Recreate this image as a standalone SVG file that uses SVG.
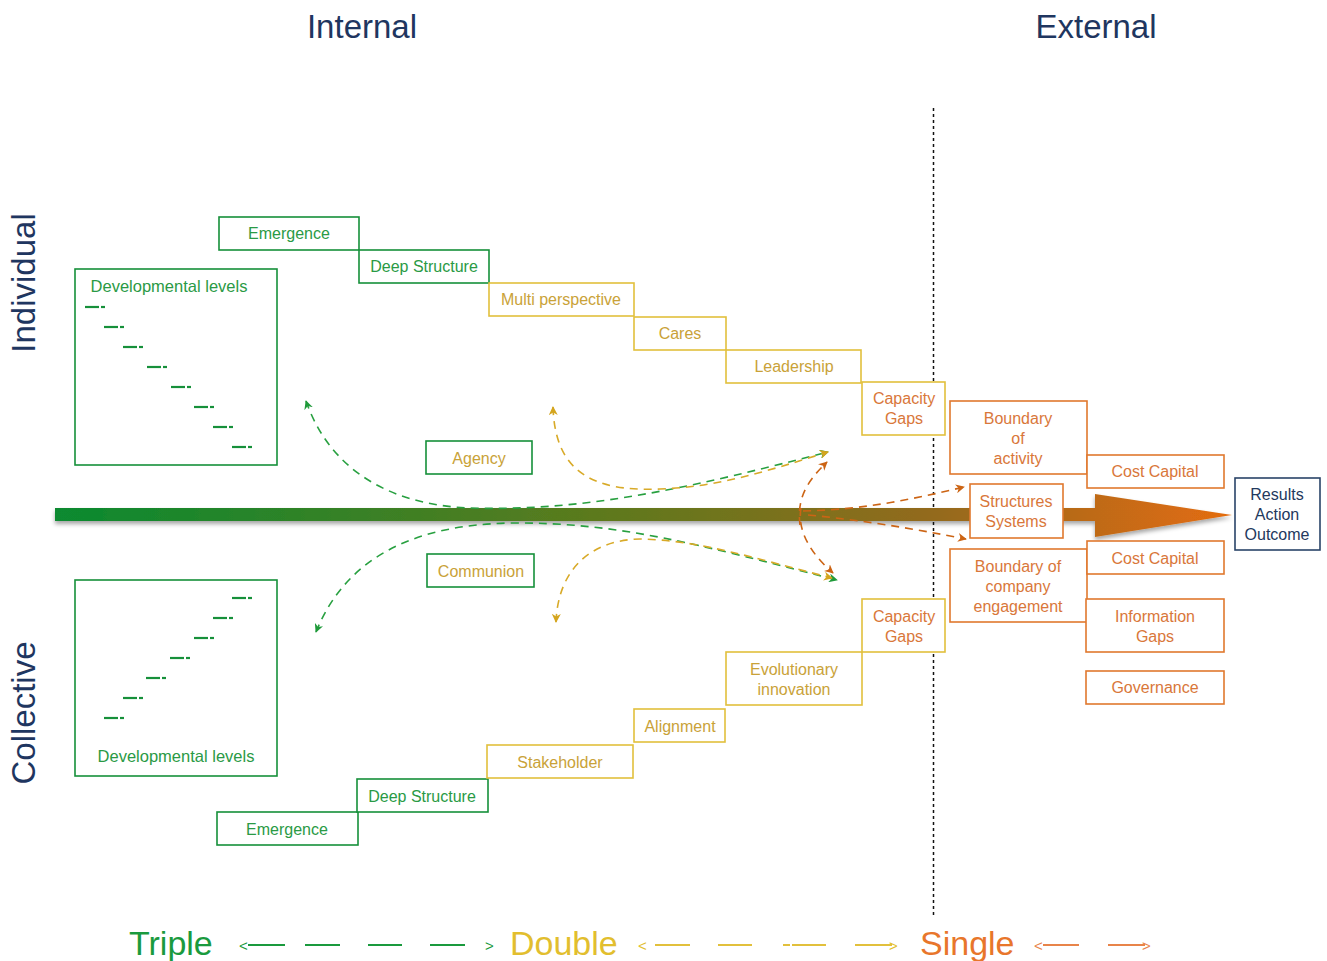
<svg xmlns="http://www.w3.org/2000/svg" width="1327" height="961" viewBox="0 0 1327 961">
  <defs>
    <linearGradient id="flow" x1="55" y1="0" x2="1232" y2="0" gradientUnits="userSpaceOnUse">
      <stop offset="0" stop-color="#0a8a30"/>
      <stop offset="0.45" stop-color="#5a7a1e"/>
      <stop offset="0.75" stop-color="#946a1e"/>
      <stop offset="1" stop-color="#e46c10"/>
    </linearGradient>
    <filter id="shadow" x="-5%" y="-50%" width="110%" height="250%">
      <feDropShadow dx="0" dy="3" stdDeviation="2" flood-color="#000" flood-opacity="0.35"/>
    </filter>
    <marker id="ah-green" viewBox="0 0 10 10" refX="9" refY="5" markerWidth="9" markerHeight="9" orient="auto-start-reverse" markerUnits="userSpaceOnUse">
      <path d="M0,0 L10,5 L0,10 L3,5 Z" fill="#1f9a3a"/>
    </marker>
    <marker id="ah-yellow" viewBox="0 0 10 10" refX="9" refY="5" markerWidth="9" markerHeight="9" orient="auto-start-reverse" markerUnits="userSpaceOnUse">
      <path d="M0,0 L10,5 L0,10 L3,5 Z" fill="#d4a51e"/>
    </marker>
    <marker id="ah-orange" viewBox="0 0 10 10" refX="9" refY="5" markerWidth="9" markerHeight="9" orient="auto-start-reverse" markerUnits="userSpaceOnUse">
      <path d="M0,0 L10,5 L0,10 L3,5 Z" fill="#cc6414"/>
    </marker>
  </defs>
  <style>
    text { font-family: "Liberation Sans", Arial, sans-serif; }
    .box rect { fill: #fff; stroke-width: 1.6; }
    .g rect { stroke: #16903a; }
    .y rect { stroke: #e2c03c; }
    .o rect { stroke: #e0782e; }
    .n rect { stroke: #2a4468; }
    .t { font-size: 16px; text-anchor: middle; }
    .dl { font-size: 16.5px; }
    .tg { fill: #2a9a45; }
    .ty { fill: #c9a238; }
    .to { fill: #d9773a; }
    .tn { fill: #23395d; }
    .head { font-size: 33px; fill: #1f3660; text-anchor: middle; }
    .lvl { stroke: #16903a; stroke-width: 2.2; }
    .dg { fill: none; stroke: #28a040; stroke-width: 1.6; stroke-dasharray: 8 6; }
    .dy { fill: none; stroke: #d8aa28; stroke-width: 1.6; stroke-dasharray: 8 6; }
    .do { fill: none; stroke: #cc6414; stroke-width: 1.6; stroke-dasharray: 8 6; }
    .leg { font-size: 34px; }
    .arr { font-size: 15px; }
    .lg { stroke: #1a9a3e; stroke-width: 2; }
    .ly { stroke: #e2c03c; stroke-width: 2; }
    .lo { stroke: #e8844a; stroke-width: 2; }
  </style>

  <!-- headings -->
  <text class="head" x="362" y="38">Internal</text>
  <text class="head" x="1096" y="38">External</text>
  <text class="head" transform="translate(35,283) rotate(-90)">Individual</text>
  <text class="head" transform="translate(35,713) rotate(-90)">Collective</text>

  <!-- internal / external divider -->
  <line x1="933.5" y1="108" x2="933.5" y2="918" stroke="#111" stroke-width="1.5" stroke-dasharray="3 3"/>

  <!-- main flow arrow -->
  <g id="flow-arrow" filter="url(#shadow)">
    <rect x="55" y="508" width="1045" height="13" fill="url(#flow)"/>
    <path d="M1095,494 L1232,515 L1095,537 Z" fill="url(#flow)"/>
  </g>

  <!-- developmental levels, individual -->
  <g id="dev-individual" class="box g">
    <rect x="75" y="269" width="202" height="196"/>
    <text class="t dl tg" x="169" y="292">Developmental levels</text>
    <g class="lvl">
      <line x1="85" y1="307" x2="99" y2="307"/><line x1="101" y1="307" x2="105" y2="307"/>
      <line x1="104" y1="327" x2="118" y2="327"/><line x1="120" y1="327" x2="124" y2="327"/>
      <line x1="123" y1="347" x2="137" y2="347"/><line x1="139" y1="347" x2="143" y2="347"/>
      <line x1="147" y1="367" x2="161" y2="367"/><line x1="163" y1="367" x2="167" y2="367"/>
      <line x1="171" y1="387" x2="185" y2="387"/><line x1="187" y1="387" x2="191" y2="387"/>
      <line x1="194" y1="407" x2="208" y2="407"/><line x1="210" y1="407" x2="214" y2="407"/>
      <line x1="213" y1="427" x2="227" y2="427"/><line x1="229" y1="427" x2="233" y2="427"/>
      <line x1="232" y1="447" x2="246" y2="447"/><line x1="248" y1="447" x2="252" y2="447"/>
    </g>
  </g>

  <!-- developmental levels, collective -->
  <g id="dev-collective" class="box g">
    <rect x="75" y="580" width="202" height="196"/>
    <text class="t dl tg" x="176" y="762">Developmental levels</text>
    <g class="lvl">
      <line x1="232" y1="598" x2="246" y2="598"/><line x1="248" y1="598" x2="252" y2="598"/>
      <line x1="213" y1="618" x2="227" y2="618"/><line x1="229" y1="618" x2="233" y2="618"/>
      <line x1="194" y1="638" x2="208" y2="638"/><line x1="210" y1="638" x2="214" y2="638"/>
      <line x1="170" y1="658" x2="184" y2="658"/><line x1="186" y1="658" x2="190" y2="658"/>
      <line x1="146" y1="678" x2="160" y2="678"/><line x1="162" y1="678" x2="166" y2="678"/>
      <line x1="123" y1="698" x2="137" y2="698"/><line x1="139" y1="698" x2="143" y2="698"/>
      <line x1="104" y1="718" x2="118" y2="718"/><line x1="120" y1="718" x2="124" y2="718"/>
    </g>
  </g>

  <!-- connectors -->
  <g id="connectors">
    <path class="dg" d="M306,401 C330,470 390,505 470,508 C590,512 700,485 828,452" marker-start="url(#ah-green)" marker-end="url(#ah-green)"/>
    <path class="dy" d="M553,407 C555,470 590,492 660,489 C720,487 770,470 828,452" marker-start="url(#ah-yellow)" marker-end="url(#ah-yellow)"/>
    <path class="dg" d="M316,632 C345,560 410,525 510,523 C620,522 700,545 837,580" marker-start="url(#ah-green)" marker-end="url(#ah-green)"/>
    <path class="dy" d="M556,622 C558,570 590,540 640,539 C700,540 760,560 832,578" marker-start="url(#ah-yellow)" marker-end="url(#ah-yellow)"/>
    <path class="do" d="M800,525 C797,500 805,483 827,462" marker-end="url(#ah-orange)"/>
    <path class="do" d="M801,508 C797,530 810,553 833,573" marker-end="url(#ah-orange)"/>
    <path class="do" d="M803,511 C860,510 910,500 964,487" marker-end="url(#ah-orange)"/>
    <path class="do" d="M808,515 C860,520 910,528 966,539" marker-end="url(#ah-orange)"/>
  </g>

  <!-- individual staircase -->
  <g id="emergence-top" class="box g"><rect x="219" y="217" width="140" height="33"/><text class="t tg" x="289" y="239">Emergence</text></g>
  <g id="deep-structure-top" class="box g"><rect x="359" y="250" width="130" height="33"/><text class="t tg" x="424" y="272">Deep Structure</text></g>
  <g id="multi-perspective" class="box y"><rect x="489" y="283" width="145" height="33"/><text class="t ty" x="561" y="305">Multi perspective</text></g>
  <g id="cares" class="box y"><rect x="634" y="317" width="92" height="33"/><text class="t ty" x="680" y="339">Cares</text></g>
  <g id="leadership" class="box y"><rect x="726" y="350" width="135" height="33"/><text class="t ty" x="794" y="372">Leadership</text></g>
  <g id="capacity-gaps-top" class="box y"><rect x="862" y="382" width="83" height="53"/><text class="t to" x="904" y="404">Capacity</text><text class="t to" x="904" y="424">Gaps</text></g>

  <!-- agency / communion -->
  <g id="agency" class="box g"><rect x="426" y="441" width="106" height="33"/><text class="t ty" x="479" y="464">Agency</text></g>
  <g id="communion" class="box g"><rect x="427" y="554" width="107" height="33"/><text class="t ty" x="481" y="577">Communion</text></g>

  <!-- collective staircase -->
  <g id="emergence-bottom" class="box g"><rect x="217" y="812" width="141" height="33"/><text class="t tg" x="287" y="835">Emergence</text></g>
  <g id="deep-structure-bottom" class="box g"><rect x="357" y="779" width="131" height="33"/><text class="t tg" x="422" y="802">Deep Structure</text></g>
  <g id="stakeholder" class="box y"><rect x="487" y="745" width="146" height="33"/><text class="t ty" x="560" y="768">Stakeholder</text></g>
  <g id="alignment" class="box y"><rect x="634" y="709" width="91" height="33"/><text class="t ty" x="680" y="732">Alignment</text></g>
  <g id="evolutionary-innovation" class="box y"><rect x="726" y="652" width="136" height="53"/><text class="t ty" x="794" y="675">Evolutionary</text><text class="t ty" x="794" y="695">innovation</text></g>
  <g id="capacity-gaps-bottom" class="box y"><rect x="862" y="599" width="83" height="53"/><text class="t to" x="904" y="622">Capacity</text><text class="t to" x="904" y="642">Gaps</text></g>

  <!-- external side -->
  <g id="boundary-activity" class="box o"><rect x="950" y="401" width="137" height="73"/><text class="t to" x="1018" y="424">Boundary</text><text class="t to" x="1018" y="444">of</text><text class="t to" x="1018" y="464">activity</text></g>
  <g id="cost-capital-top" class="box o"><rect x="1087" y="455" width="137" height="33"/><text class="t to" x="1155" y="477">Cost Capital</text></g>
  <g id="structures-systems" class="box o"><rect x="970" y="484" width="93" height="54"/><text class="t to" x="1016" y="507">Structures</text><text class="t to" x="1016" y="527">Systems</text></g>
  <g id="boundary-engagement" class="box o"><rect x="950" y="549" width="137" height="73"/><text class="t to" x="1018" y="572">Boundary of</text><text class="t to" x="1018" y="592">company</text><text class="t to" x="1018" y="612">engagement</text></g>
  <g id="cost-capital-bottom" class="box o"><rect x="1087" y="541" width="137" height="33"/><text class="t to" x="1155" y="564">Cost Capital</text></g>
  <g id="information-gaps" class="box o"><rect x="1086" y="599" width="138" height="53"/><text class="t to" x="1155" y="622">Information</text><text class="t to" x="1155" y="642">Gaps</text></g>
  <g id="governance" class="box o"><rect x="1086" y="671" width="138" height="33"/><text class="t to" x="1155" y="693">Governance</text></g>
  <g id="results" class="box n"><rect x="1235" y="478" width="85" height="72"/><text class="t tn" x="1277" y="500">Results</text><text class="t tn" x="1277" y="520">Action</text><text class="t tn" x="1277" y="540">Outcome</text></g>

  <!-- loop legend -->
  <g id="legend">
    <text class="leg" x="129" y="955" fill="#1a9a3e">Triple</text>
    <text class="arr" x="239" y="951" fill="#1a9a3e">&lt;</text>
    <line class="lg" x1="248" y1="945" x2="285" y2="945"/>
    <line class="lg" x1="305" y1="945" x2="340" y2="945"/>
    <line class="lg" x1="368" y1="945" x2="402" y2="945"/>
    <line class="lg" x1="430" y1="945" x2="465" y2="945"/>
    <text class="arr" x="485" y="951" fill="#1a9a3e">&gt;</text>

    <text class="leg" x="510" y="955" fill="#e2be2e">Double</text>
    <text class="arr" x="638" y="951" fill="#e2be2e">&lt;</text>
    <line class="ly" x1="655" y1="945" x2="690" y2="945"/>
    <line class="ly" x1="718" y1="945" x2="752" y2="945"/>
    <line class="ly" x1="783" y1="945" x2="790" y2="945"/>
    <line class="ly" x1="792" y1="945" x2="826" y2="945"/>
    <line class="ly" x1="855" y1="945" x2="892" y2="945"/>
    <text class="arr" x="889" y="951" fill="#e2be2e">&gt;</text>

    <text class="leg" x="920" y="955" fill="#e8762b">Single</text>
    <text class="arr" x="1034" y="951" fill="#e8844a">&lt;</text>
    <line class="lo" x1="1043" y1="945" x2="1079" y2="945"/>
    <line class="lo" x1="1108" y1="945" x2="1145" y2="945"/>
    <text class="arr" x="1142" y="951" fill="#e8844a">&gt;</text>
  </g>
</svg>
